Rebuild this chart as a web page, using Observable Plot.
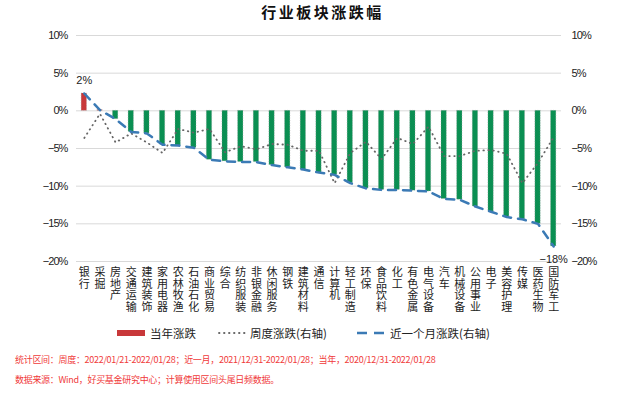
<!DOCTYPE html>
<html><head><meta charset="utf-8">
<script src="https://cdn.jsdelivr.net/npm/d3@7"></script>
<script src="https://cdn.jsdelivr.net/npm/@observablehq/plot@0.6"></script>
<style>
body{margin:0;background:#fff;}
#wrap{position:relative;width:633px;height:396px;overflow:hidden;font-family:"Noto Sans CJK SC",sans-serif;background:#fff;}
#title{position:absolute;left:6px;top:0;width:633px;height:24px;line-height:24px;text-align:center;font-weight:bold;font-size:15px;letter-spacing:2.5px;color:#111;}
#chart{position:absolute;left:0;top:24px;}
#legend{position:absolute;left:0;top:324px;width:633px;height:18px;font-size:11.5px;color:#222;}
#legend .t{position:absolute;top:0;line-height:18px;white-space:nowrap;}
#legend svg{position:absolute;top:0;}
.foot{position:absolute;left:15px;font-size:9px;letter-spacing:-0.3px;color:#f03a3a;white-space:nowrap;line-height:14px;}
g[aria-label="y-axis tick label"] text{letter-spacing:-0.9px;}
</style>
</head><body>
<div id="wrap">
  <div id="title">行业板块涨跌幅</div>
  <div id="chart"></div>
  <div id="legend">
    <svg style="left:117px" width="28" height="18"><rect x="0" y="6" width="28" height="6" fill="#c8383a"/></svg>
    <span class="t" style="left:150px">当年涨跌</span>
    <svg style="left:218px" width="28" height="18"><line x1="1" y1="9" x2="27" y2="9" stroke="#666" stroke-width="1.8" stroke-linecap="round" stroke-dasharray="0.5 4.5"/></svg>
    <span class="t" style="left:250px">周度涨跌(右轴)</span>
    <svg style="left:357px" width="28" height="18"><line x1="0" y1="9" x2="27" y2="9" stroke="#3b7ab5" stroke-width="2.5" stroke-dasharray="10 7"/></svg>
    <span class="t" style="left:390px">近一个月涨跌(右轴)</span>
  </div>
  <div class="foot" style="top:353px">统计区间：周度：2022/01/21-2022/01/28；近一月，2021/12/31-2022/01/28；当年，2020/12/31-2022/01/28</div>
  <div class="foot" style="top:373px">数据来源：Wind，好买基金研究中心；计算使用区间头尾日频数据。</div>
</div>
<script>
const categories = ["银行","采掘","房地产","交通运输","建筑装饰","家用电器","农林牧渔","石油石化","商业贸易","综合","纺织服装","非银金融","休闲服务","钢铁","建筑材料","通信","计算机","轻工制造","环保","食品饮料","化工","有色金属","电气设备","汽车","机械设备","公用事业","电子","美容护理","传媒","医药生物","国防军工"];
const yearChange = [2.3,0.1,-1.1,-2.8,-3.0,-4.5,-4.6,-4.9,-6.5,-6.7,-6.8,-6.8,-7.2,-7.5,-7.8,-8.2,-8.5,-9.6,-10.3,-10.5,-10.5,-10.6,-10.7,-11.7,-11.8,-12.7,-13.4,-14.1,-14.4,-15.0,-18.0];
const weekChange = [-3.6,-0.4,-4.2,-3.0,-4.2,-5.6,-2.4,-2.9,-2.4,-5.5,-4.7,-5.1,-4.4,-4.5,-5.3,-5.3,-9.6,-5.6,-4.1,-6.4,-3.6,-4.4,-2.1,-6.0,-6.0,-5.3,-5.2,-5.7,-9.6,-6.9,-3.5];
const monthChange = [2.3,0.1,-1.1,-2.8,-3.0,-4.5,-4.6,-4.9,-6.5,-6.7,-6.8,-6.8,-7.2,-7.5,-7.8,-8.2,-8.5,-9.6,-10.3,-10.5,-10.5,-10.6,-10.7,-11.7,-11.8,-12.7,-13.4,-14.1,-14.4,-15.0,-18.0];
const yTicks = [10,5,0,-5,-10,-15,-20];

const rows = categories.map((c,i)=>({i, cat:c, year:yearChange[i], week:weekChange[i], month:monthChange[i]}));
const pct = d => (d<0 ? "\u2212" : "") + Math.abs(d) + "%";
const tickFont = '"Liberation Sans",Arial,sans-serif';
const cjk = '"Noto Sans CJK SC",sans-serif';

const chart = Plot.plot({
  width: 633, height: 300,
  marginLeft: 76, marginRight: 72, marginTop: 11, marginBottom: 63,
  x: {domain: [-0.5, categories.length - 0.5], axis: null},
  y: {domain: [-20, 10], axis: null},
  style: {background: "#fff", overflow: "visible", fontFamily: cjk},
  marks: [
    Plot.ruleY(yTicks, {stroke: "#d9d9d9", strokeWidth: 1}),
    Plot.axisY({anchor: "left", ticks: yTicks, tickSize: 0, tickPadding: 9, tickFormat: pct, fontSize: 11, fill: "#222", fontFamily: tickFont, label: null}),
    Plot.axisY({anchor: "right", ticks: yTicks, tickSize: 0, tickPadding: 10, tickFormat: pct, fontSize: 11, fill: "#222", fontFamily: tickFont, label: null}),
    Plot.axisX({ticks: d3.range(categories.length), tickSize: 0, tickPadding: 6, tickFormat: i => categories[i].split("").join("\n"), lineHeight: 1.065, fontSize: 11, fill: "#222", fontFamily: cjk, label: null}),
    Plot.rectY(rows, {x1: d => d.i - 0.17, x2: d => d.i + 0.17, y1: 0, y2: "year", fill: d => d.year >= 0 ? "#c8383a" : "#0a8f52", stroke: "#9a9a9a", strokeWidth: 0.5, strokeDasharray: "1 1.5"}),
    Plot.line(rows, {x: "i", y: "week", stroke: "#666", strokeWidth: 1.8, strokeDasharray: "0.5 4.5", strokeLinecap: "round"}),
    Plot.line(rows, {x: "i", y: "month", stroke: "#3b7ab5", strokeWidth: 2.5, strokeDasharray: "8 7"}),
    Plot.text([rows[0]], {x: "i", y: "year", text: d => Math.round(d.year) + "%", dy: -13, fontSize: 11, fill: "#222", fontFamily: tickFont}),
    Plot.text([rows[rows.length-1]], {x: "i", y: "month", text: d => pct(Math.round(d.month)), dy: 13, fontSize: 11, fill: "#222", fontFamily: tickFont})
  ]
});
document.getElementById("chart").appendChild(chart);
</script>
</body></html>
